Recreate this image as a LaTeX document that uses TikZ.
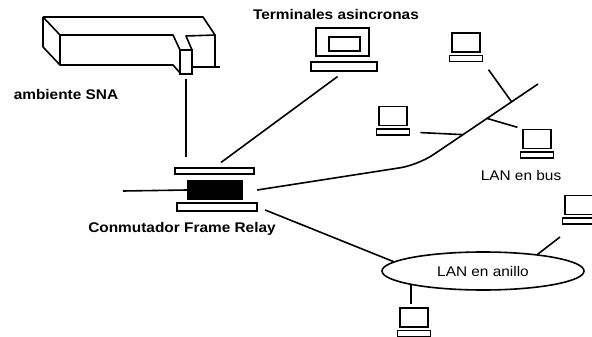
\documentclass[tikz,border=0pt]{standalone}
\usepackage{fontspec}
\setmainfont{Liberation Sans}[FakeStretch=1.1]
\usepackage{tikz}
\usetikzlibrary{positioning, calc, shapes.geometric}
\tikzset{
	netlink/.style={line width=1.6pt, line join=round},
	pcscreen/.style={draw, line width=1.6pt, minimum width=28pt, minimum height=19pt, inner sep=0pt},
	pckeys/.style={draw, line width=1.6pt, minimum width=33pt, minimum height=6pt, inner sep=0pt},
	swbar/.style={draw, line width=1.5pt, minimum height=#1, inner sep=0pt},
	lbltext/.style={font=\fontsize{14}{16}\selectfont\bfseries, inner sep=0pt},
	lblthin/.style={font=\fontsize{14}{16}\selectfont, inner sep=0pt},
}

\begin{document}
\begin{tikzpicture}[x=1pt, y=-1pt]
				\clip (0,0) rectangle (592,337);
				% mainframe
				\draw[netlink] (43,17) -- (203,17) -- (215,35) -- (215,67);
				\draw[netlink] (192,67) -- (220,67);
				\draw[netlink] (215,35) -- (186,36) -- (192,50);
				\draw[netlink] (43,17) -- (60,35) -- (173,35) -- (180,50);
				\draw[netlink] (43,17) -- (43,47) -- (60,65) -- (173,65) -- (181,74);
				\draw[netlink] (60,35) -- (60,65);
				\node[draw, line width=1.6pt, minimum width=12pt, minimum height=24pt, inner sep=0pt] (port) at (186,62) {};
				\node[lbltext] (sna) at (66,94) {ambiente SNA};

				% frame relay switch
				\node[swbar=6pt, minimum width=79pt] (swTop) at (214.5,171) {};
				\node[fill=black, minimum width=56pt, minimum height=20pt, inner sep=0pt] (swCore) at (215,190) {};
				\node[swbar=8pt, minimum width=80pt] (swBot) at (217,207) {};
				\node[lbltext] (sw) at (182,229) {Conmutador Frame Relay};
				\coordinate (swIn) at (123,191);

				% async terminal
				\node[draw, line width=1.6pt, minimum width=53pt, minimum height=28pt, inner sep=0pt] (term) at (342.5,42) {};
				\node[draw, line width=1.6pt, minimum width=31pt, minimum height=14pt, inner sep=0pt] (termScr) at (344.5,44) {};
				\node[pckeys, minimum width=66pt, minimum height=9pt] (termKb) at (344,66.5) {};
				\node[lbltext] (tl) at (336,14) {Terminales asincronas};

				% bus lan
				\node[pcscreen] (pcTop) at (466,42.5) {};
				\node[pckeys, below=2pt of pcTop] (pcTopKb) {};
				\node[pcscreen] (pcLeft) at (393,116) {};
				\node[pckeys, below=2pt of pcLeft] (pcLeftKb) {};
				\node[pcscreen] (pcBus) at (537,139) {};
				\node[pckeys, below=2pt of pcBus] (pcBusKb) {};
				\node[lblthin] (bus) at (521,175) {LAN en bus};

				% ring lan
				\node[ellipse, draw, line width=1.6pt, minimum width=202pt, minimum height=38pt, lblthin] (ring) at (483,271) {LAN en anillo};
				\node[pcscreen] (pcRight) at (579,205) {};
				\node[pckeys, below=2pt of pcRight] (pcRightKb) {};
				\node[pcscreen] (pcBot) at (414,317.5) {};
				\node[pckeys, below=2pt of pcBot] (pcBotKb) {};
				\coordinate (ringOut) at (560,237);

				\coordinate (busA) at ([xshift=14pt]swCore.east);
				\coordinate (busB) at (418,165);
				\coordinate (busEnd) at (538,84);
				\coordinate (busC) at ($(busB)!0.375!(busEnd)$);
				\coordinate (busD) at ($(busB)!0.575!(busEnd)$);
				\coordinate (busE) at ($(busB)!0.78!(busEnd)$);

				\draw[netlink, shorten <=4pt, shorten >=10pt] (port.south) -- (port.south |- swTop.north);
				\draw[netlink] (swIn) -- (swCore.west);
				\draw[netlink, shorten <=8pt, shorten >=8pt] (swTop.north) -- (termKb.south);
				\draw[netlink, rounded corners=18pt] (busA) -- (busB) -- (busEnd);
				\draw[netlink, shorten <=10pt] (pcLeftKb.east) -- (busC);
				\draw[netlink, shorten >=5pt] (busD) -- (pcBus.north west);
				\draw[netlink, shorten <=9pt] (pcTopKb.south east) -- (busE);
				\draw[netlink, shorten <=8pt] (swBot.east) -- (ring.174);
				\draw[netlink] (ring.17) -- (ringOut);
				\draw[netlink, shorten >=3pt] (ring.191) -- (ring.191 |- pcBot.north);
			\end{tikzpicture}
\end{document}
